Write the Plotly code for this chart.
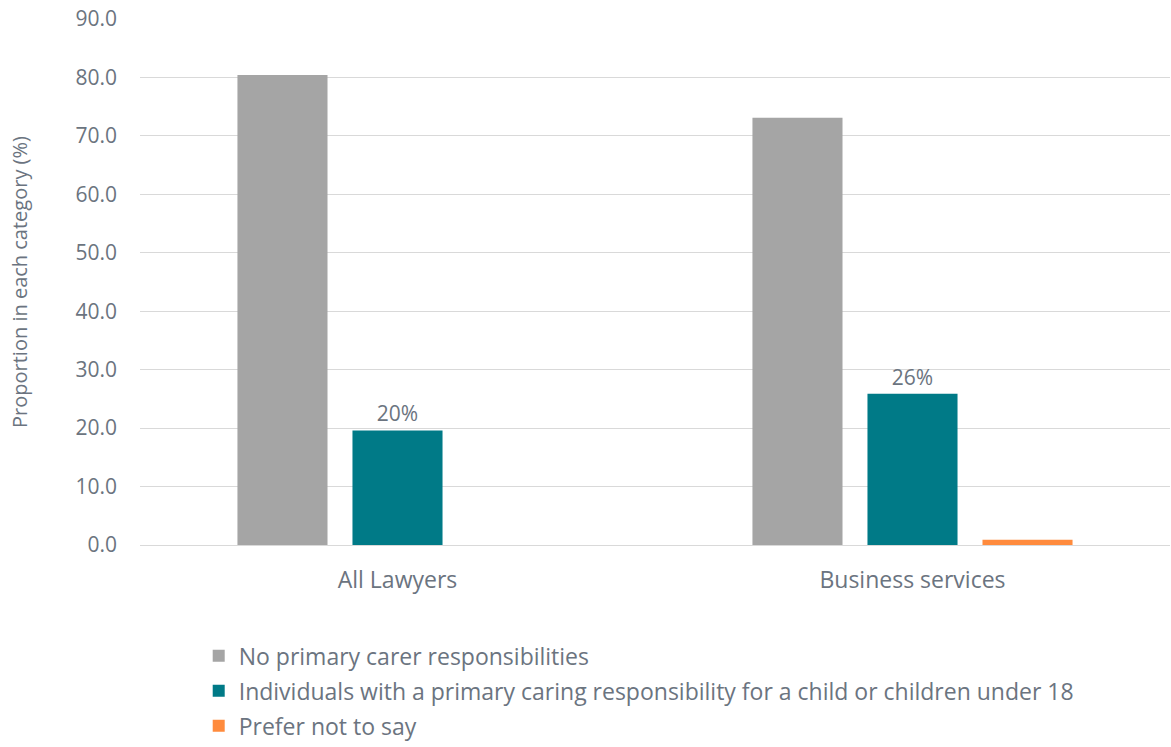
import plotly.graph_objects as go

categories = ["All Lawyers", "Business services"]
series_names = [
    "No primary carer responsibilities",
    "Individuals with a primary caring responsibility for a child or children under 18",
    "Prefer not to say",
]
no_carer = [80.4, 73.1]
with_child = [19.6, 25.9]
prefer_not = [0.0, 0.9]
y_ticks = [0, 10, 20, 30, 40, 50, 60, 70, 80, 90]

colors = ["#A5A5A5", "#007A87", "#FF8B3D"]
text_color = "#6b7480"
font_family = "Open Sans, Segoe UI, sans-serif"

fig = go.Figure()
fig.add_trace(go.Bar(name=series_names[0], x=categories, y=no_carer, legendgroup="a",
                     marker=dict(color=colors[0], line=dict(width=0))))
fig.add_trace(go.Bar(name=series_names[1], x=categories, y=with_child, legendgroup="b",
                     marker=dict(color=colors[1], line=dict(width=0)),
                     texttemplate="%{y:.0f}%", textposition="outside",
                     textfont=dict(size=21, color=text_color), cliponaxis=False))
fig.add_trace(go.Bar(name=series_names[2], x=categories, y=prefer_not, legendgroup="c",
                     marker=dict(color=colors[2], line=dict(width=0))))

fig.update_layout(
    width=1171, height=747,
    margin=dict(l=140, r=1, t=19, b=202, autoexpand=False),
    paper_bgcolor="white", plot_bgcolor="white",
    font=dict(family=font_family, color=text_color, size=21),
    barmode="group", bargap=0.33, bargroupgap=0.217,
    showlegend=True,
    legend=dict(orientation="v", x=0.057, xanchor="left", y=-0.17, yanchor="top",
                font=dict(size=23, color=text_color), tracegroupgap=2,
                itemwidth=30, bgcolor="rgba(0,0,0,0)"),
)
fig.update_xaxes(showline=True, linecolor="#D9D9D9", linewidth=1,
                 tickfont=dict(size=23, color=text_color), ticks="",
                 ticklabelstandoff=14, automargin=False)
fig.update_yaxes(range=[0, 90], tickvals=y_ticks, tickformat=".1f",
                 showgrid=True, gridcolor="#D9D9D9", gridwidth=1,
                 zeroline=False, showline=False, ticks="",
                 ticklabelstandoff=22, automargin=False,
                 tickfont=dict(size=21, color=text_color),
                 title=dict(text="Proportion in each category (%)",
                            font=dict(size=20, color=text_color), standoff=42))

fig.write_html("out.html")
